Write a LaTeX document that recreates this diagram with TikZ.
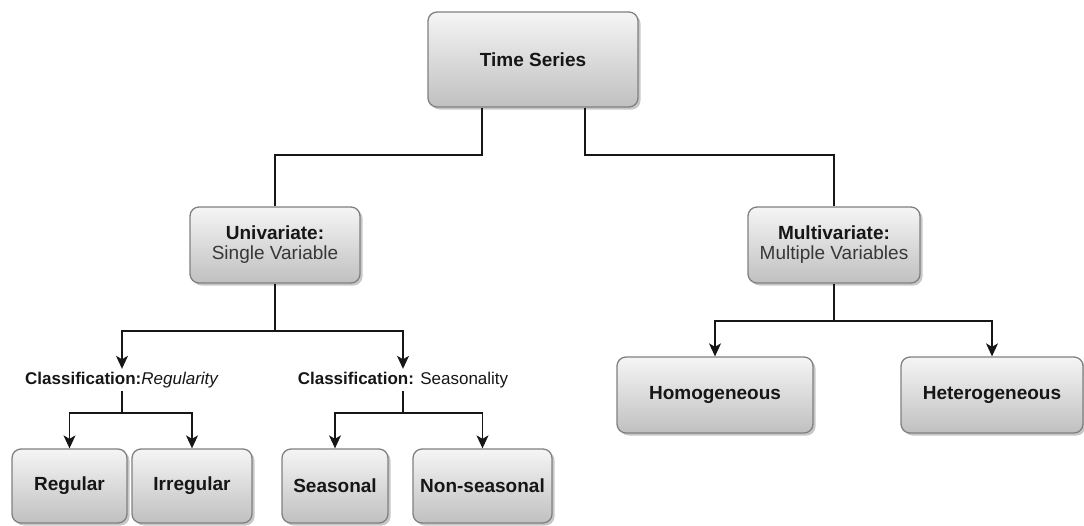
\documentclass[tikz,border=0pt]{standalone}
\usepackage{fontspec}
\setmainfont{Liberation Sans}
\usetikzlibrary{arrows.meta,shadows,calc}
\definecolor{boxedge}{RGB}{128,128,128}
\definecolor{boxtop}{RGB}{245,245,245}
\definecolor{boxbot}{RGB}{192,192,192}
\definecolor{ink}{RGB}{22,22,22}
\definecolor{subink}{RGB}{55,55,55}
\begin{document}
\begin{tikzpicture}[x=1pt,y=-1pt,
  catbox/.style={draw=boxedge, line width=1.3pt, rounded corners=9pt,
    top color=boxtop, bottom color=boxbot,
    drop shadow={shadow xshift=2.5pt, shadow yshift=-2.5pt, fill=black, opacity=0.22},
    inner sep=0pt, align=center, text=ink,
    font=\fontsize{19}{21}\selectfont\bfseries},
  clslabel/.style={inner sep=0pt, minimum height=22pt, text=ink,
    font=\fontsize{17}{19}\selectfont},
  conn/.style={draw=ink, line width=1.2pt},
  arr/.style={conn, -{Stealth[length=13pt, width=12pt, inset=3.5pt]}}]
\useasboundingbox (0,0) rectangle (1084,525);

% boxes
\node[catbox, minimum width=210pt, minimum height=95pt] (ts) at (533,59.5) {Time Series};
\node[catbox, minimum width=170pt, minimum height=76pt] (uni) at (275,245)
  {Univariate:\\[-1pt]{\mdseries\color{subink}Single Variable}};
\node[catbox, minimum width=172pt, minimum height=76pt] (multi) at (834,245)
  {Multivariate:\\[-1pt]{\mdseries\color{subink}Multiple Variables}};

\node[clslabel] (clsA) at (122,380) {\textbf{Classification:}\textit{Regularity}};
\node[clslabel] (clsB) at (403,380) {\textbf{Classification:} Seasonality};

\node[catbox, minimum width=115pt, minimum height=74pt] (reg) at (69.5,486) {Regular};
\node[catbox, minimum width=120pt, minimum height=74pt] (irr) at (192,486) {Irregular};
\node[catbox, minimum width=106pt, minimum height=74pt] (sea) at (335,486) {Seasonal};
\node[catbox, minimum width=139pt, minimum height=74pt] (nsea) at (482.5,486) {Non-seasonal};

\node[catbox, minimum width=196pt, minimum height=76pt] (homo) at (715,395) {Homogeneous};
\node[catbox, minimum width=182pt, minimum height=76pt] (hete) at (992,395) {Heterogeneous};

% bus levels
\coordinate (tsl) at ($(ts.south)+(-51,0)$);
\coordinate (tsr) at ($(ts.south)+(52,0)$);
\coordinate (busA) at (0,155);
\coordinate (busB) at (0,331);
\coordinate (busC) at (0,413);
\coordinate (busD) at (0,321);

% connectors
\draw[conn] (tsl) -- (tsl |- busA) -| (uni.north);
\draw[conn] (tsr) -- (tsr |- busA) -| (multi.north);

\draw[arr] (uni.south) -- (uni.south |- busB) -| (clsA.north);
\draw[arr] (uni.south |- busB) -| (clsB.north);

\draw[arr] (clsA.south) -- (clsA.south |- busC) -| (reg.north);
\draw[arr] (clsA.south |- busC) -| (irr.north);
\draw[arr] (clsB.south) -- (clsB.south |- busC) -| (sea.north);
\draw[arr] (clsB.south |- busC) -| (nsea.north);

\draw[arr] (multi.south) -- (multi.south |- busD) -| (homo.north);
\draw[arr] (multi.south |- busD) -| (hete.north);
\end{tikzpicture}
\end{document}
